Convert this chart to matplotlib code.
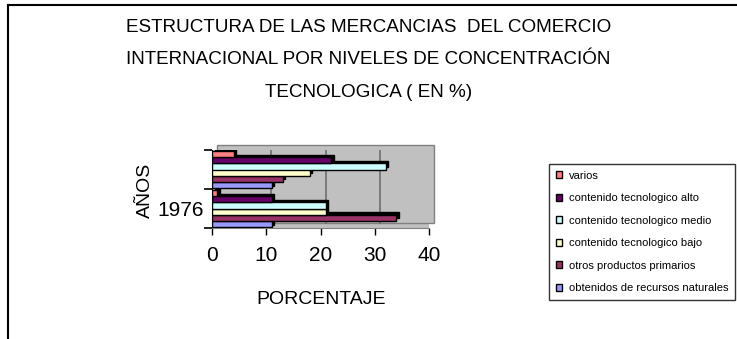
import matplotlib
matplotlib.use("Agg")
import matplotlib.pyplot as plt
import matplotlib.transforms as mtransforms
from matplotlib.lines import Line2D
from matplotlib.patches import Rectangle
import numpy as np

plt.rcParams['font.family'] = ['Liberation Sans', 'DejaVu Sans']

categories = ["1976", ""]
series_names = [
    "obtenidos de recursos naturales",
    "otros productos primarios",
    "contenido tecnologico bajo",
    "contenido tecnologico medio",
    "contenido tecnologico alto",
    "varios",
]
series_colors = ["#9999FF", "#993366", "#FFFFCC", "#CCFFFF", "#660066", "#FF8080"]
obtenidos = [11, 11]
otros = [34, 13]
bajo = [21, 18]
medio = [21, 32]
alto = [11, 22]
varios = [1, 4]
series_values = [obtenidos, otros, bajo, medio, alto, varios]
x_ticks = [0, 10, 20, 30, 40]

W, H = 737, 339
fig = plt.figure(figsize=(W / 100, H / 100), dpi=100)

# outer border (top and left visible)
fig.add_artist(Line2D([8 / W, 8 / W], [0, 1 - 5 / H], color="black", lw=1.5))
fig.add_artist(Line2D([8 / W, 1], [1 - 5 / H, 1 - 5 / H], color="black", lw=1.5))

ax = fig.add_axes([212 / W, 1 - 228 / H, (429 - 212) / W, (228 - 150) / H])
ax.set_facecolor("#C0C0C0")

depth = mtransforms.ScaledTranslation(5 / 100, 5 / 100, fig.dpi_scale_trans)
bar_depth = mtransforms.ScaledTranslation(2.5 / 100, 2.5 / 100, fig.dpi_scale_trans)

# back wall
wall = Rectangle((0, 0), 1, 1, transform=ax.transAxes + depth, facecolor="#C0C0C0",
                 edgecolor="#808080", lw=1, clip_on=False, zorder=0)
ax.add_patch(wall)
for xv in x_ticks[1:-1]:
    ax.axvline(xv, color="#6E6E6E", lw=1.2, zorder=0.5)
    ax.lines[-1].set_transform(ax.get_xaxis_transform() + depth)

n = len(series_values)
group = 0.96
h = group / n
y = np.arange(len(categories))
for i, (vals, col, name) in enumerate(zip(series_values, series_colors, series_names)):
    pos = y - group / 2 + h * (i + 0.5)
    shadow = ax.barh(pos, vals, height=h, color="black", edgecolor="black", lw=1, zorder=2)
    for p in shadow.patches:
        p.set_transform(ax.transData + bar_depth)
    ax.barh(pos, vals, height=h, color=col, edgecolor="black", lw=1, zorder=3, label=name)

ax.set_xlim(0, 40)
ax.set_ylim(-0.5, len(categories) - 0.5)
ax.set_xticks(x_ticks)
ax.set_xticklabels([str(v) for v in x_ticks], fontsize=15)
ax.set_yticks(np.arange(len(categories) + 1) - 0.5)
ax.set_yticklabels([])
ax.set_yticks(y, minor=True)
ax.set_yticklabels(categories, minor=True, fontsize=15)
ax.tick_params(axis="y", which="minor", length=0, pad=6)
ax.tick_params(axis="y", which="major", length=6, width=1.2, direction="out")
ax.tick_params(axis="x", length=5, width=1, direction="out", pad=8)
for s in ["top", "right"]:
    ax.spines[s].set_visible(False)
ax.spines["left"].set_color("black")
ax.spines["bottom"].set_color("#808080")

title_lines = ["ESTRUCTURA DE LAS MERCANCIAS  DEL COMERCIO",
               "INTERNACIONAL POR NIVELES DE CONCENTRACIÓN",
               "TECNOLOGICA ( EN %)"]
for k, line in enumerate(title_lines):
    fig.text(0.5, 1 - (27 + 32.5 * k) / H, line, ha="center", va="center", fontsize=13.6)

fig.text(145 / W, 1 - 190 / H, "AÑOS", rotation=90, ha="center", va="center", fontsize=14)
fig.text(321 / W, 1 - 300 / H, "PORCENTAJE", ha="center", va="center", fontsize=14)

handles, labels = ax.get_legend_handles_labels()
leg = fig.legend(handles[::-1], labels[::-1], loc="upper left",
                 bbox_to_anchor=(549 / W, 1 - 164 / H), fontsize=8.0,
                 frameon=True, fancybox=False, edgecolor="black",
                 handlelength=0.6, handleheight=0.6, handletextpad=0.6,
                 labelspacing=1.13, borderpad=0.6, borderaxespad=0)
leg.get_frame().set_linewidth(1)

fig.savefig("out.png", dpi=100)
